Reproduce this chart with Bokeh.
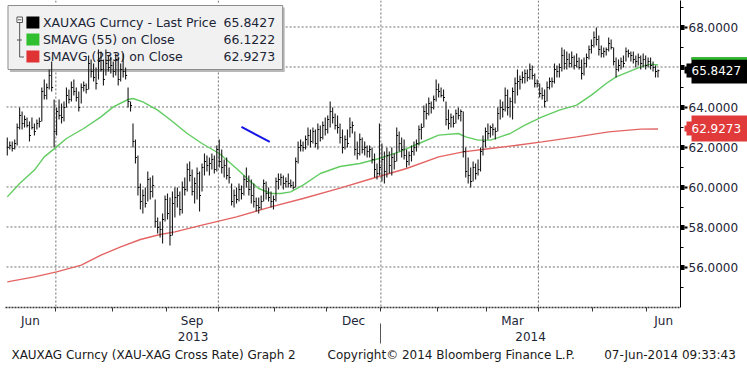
import math
import numpy as np
import pandas as pd
from bokeh.plotting import figure
from bokeh.models import (Range1d, LinearAxis, FixedTicker, NumeralTickFormatter,
                          ColumnDataSource)
from bokeh.core.properties import value
from bokeh.embed import file_html
from bokeh.resources import INLINE

# ---------------- data ----------------
start_date = "2013-06-03"

high = [62.5, 62.3, 62.3, 62.4, 63.2, 64.0, 63.8, 63.6, 63.5, 63.3,
        63.5, 63.2, 63.4, 63.5, 65.0, 65.4, 65.2, 65.9, 66.3, 64.4,
        64.0, 64.4, 64.2, 64.3, 65.0, 64.9, 65.3, 65.4, 65.0, 64.8,
        65.2, 65.3, 65.2, 66.6, 66.4, 66.2, 66.0, 66.9, 66.8, 66.4,
        66.9, 66.6, 66.5, 66.3, 66.7, 66.5, 66.2, 66.7, 66.0, 65.0,
        64.3, 63.2, 62.4, 61.6, 60.2, 59.9, 60.0, 60.8, 60.5, 60.6,
        59.4, 58.5, 58.3, 58.7, 59.6, 59.7, 59.5, 59.8, 60.0, 60.0,
        59.8, 60.3, 60.5, 61.2, 61.3, 60.9, 60.5, 61.0, 60.8, 61.2,
        61.7, 61.6, 61.5, 61.7, 61.6, 62.1, 62.4, 61.9, 61.4, 61.5,
        61.0, 60.2, 59.9, 60.0, 60.2, 60.1, 60.6, 61.0, 60.6, 60.4,
        60.2, 59.5, 59.5, 59.6, 60.4, 60.3, 60.0, 59.8, 59.6, 60.5,
        60.7, 60.7, 60.6, 60.5, 60.7, 60.4, 60.3, 61.5, 62.3, 62.4,
        62.3, 62.6, 63.0, 62.9, 63.0, 62.9, 63.2, 63.1, 63.3, 63.5,
        63.6, 64.3, 64.0, 63.7, 63.6, 63.2, 62.9, 62.6, 62.9, 63.5,
        63.3, 62.8, 62.3, 62.7, 62.5, 62.3, 62.1, 62.1, 62.0, 61.7,
        61.2, 63.2, 62.2, 61.8, 62.0, 61.8, 62.0, 61.7, 63.0, 62.8,
        62.5, 62.4, 61.9, 61.8, 62.1, 62.3, 62.4, 63.1, 63.2, 64.1,
        64.2, 64.5, 64.3, 64.6, 65.4, 65.2, 65.0, 64.9, 64.3, 63.9,
        63.7, 63.6, 63.9, 64.0, 63.9, 63.8, 62.0, 61.5, 61.0, 61.3,
        61.2, 61.4, 62.0, 62.6, 63.0, 63.2, 63.1, 63.2, 63.0, 64.0,
        64.4, 64.3, 65.0, 64.9, 64.5, 65.0, 65.5, 65.9, 65.6, 65.8,
        65.9, 65.9, 66.2, 66.1, 65.7, 65.4, 65.2, 65.0, 64.9, 65.3,
        65.5, 65.5, 66.2, 66.1, 66.2, 67.0, 66.9, 66.8, 66.7, 66.8,
        66.6, 66.7, 66.5, 66.4, 66.5, 66.7, 67.1, 67.4, 67.8, 68.0,
        67.6, 67.1, 67.0, 67.0, 67.5, 67.4, 67.0, 66.5, 66.4, 66.5,
        66.6, 67.0, 66.9, 66.8, 66.8, 66.6, 66.7, 66.6, 66.7, 66.6,
        66.5, 66.5, 66.3, 66.1, 65.9]

low = [61.6, 61.9, 61.8, 61.9, 62.1, 62.9, 62.9, 63.0, 63.0, 62.3,
       62.9, 62.6, 62.9, 63.0, 63.3, 64.4, 64.4, 64.9, 64.8, 62.0,
       62.6, 63.4, 63.2, 63.3, 64.0, 64.2, 64.3, 64.6, 64.3, 63.8,
       64.2, 64.8, 64.7, 64.9, 65.5, 65.3, 64.9, 65.4, 65.8, 65.1,
       65.6, 65.8, 65.7, 65.5, 65.6, 65.1, 65.3, 65.5, 65.4, 64.0,
       63.8, 62.0, 61.2, 59.6, 58.9, 58.7, 59.0, 59.3, 59.4, 59.5,
       58.0, 57.7, 57.5, 57.2, 58.3, 58.4, 57.1, 57.6, 58.5, 59.0,
       58.6, 58.7, 59.6, 59.8, 60.3, 59.6, 59.2, 59.4, 58.8, 59.8,
       60.6, 60.8, 60.6, 60.9, 60.7, 60.8, 61.0, 60.7, 60.5, 60.4,
       60.2, 59.1, 59.0, 59.2, 59.3, 59.4, 59.6, 60.0, 59.6, 59.2,
       59.0, 58.8, 58.7, 58.9, 59.3, 59.4, 59.3, 59.0, 58.9, 59.3,
       59.9, 60.1, 59.9, 60.0, 60.0, 60.0, 59.9, 60.0, 61.2, 61.8,
       61.8, 61.9, 62.1, 62.0, 62.2, 62.0, 61.9, 62.3, 62.4, 62.6,
       62.7, 63.0, 63.2, 62.9, 62.7, 62.2, 61.7, 61.9, 62.0, 62.5,
       62.7, 61.6, 61.4, 61.6, 61.7, 61.6, 61.5, 61.5, 61.2, 60.5,
       60.4, 60.6, 60.3, 60.2, 60.5, 60.7, 60.6, 60.9, 61.3, 61.8,
       61.5, 61.4, 61.0, 61.1, 61.3, 61.6, 61.8, 62.1, 62.4, 63.0,
       63.4, 63.6, 63.7, 63.9, 64.3, 64.5, 64.5, 64.3, 63.1, 62.9,
       63.0, 63.0, 63.2, 63.4, 63.3, 61.5, 60.5, 60.2, 60.0, 60.3,
       60.4, 60.6, 60.8, 61.6, 62.0, 62.4, 62.5, 62.6, 62.4, 62.8,
       63.4, 63.5, 63.8, 63.6, 63.5, 63.4, 64.2, 64.6, 64.9, 65.2,
       65.2, 65.3, 65.4, 65.4, 65.0, 65.0, 64.5, 64.4, 64.0, 64.3,
       64.9, 65.0, 65.2, 65.5, 65.5, 65.8, 65.9, 65.9, 66.0, 66.0,
       65.9, 66.0, 65.9, 65.4, 65.6, 66.0, 66.4, 66.7, 67.0, 67.1,
       66.6, 66.5, 66.5, 66.6, 66.8, 66.9, 66.1, 65.5, 65.8, 65.9,
       66.0, 66.3, 66.5, 66.3, 66.2, 66.0, 66.1, 65.9, 66.0, 65.9,
       66.0, 65.9, 65.8, 65.5, 65.5]

close = [62.0, 62.1, 61.95, 62.2, 63.0, 63.6, 63.2, 63.4, 63.1, 62.6,
         63.0, 62.8, 63.2, 63.3, 64.8, 64.6, 65.0, 65.6, 65.0, 62.8,
         63.8, 63.6, 63.5, 64.0, 64.6, 64.4, 65.0, 64.8, 64.5, 64.0,
         65.0, 65.1, 64.9, 66.2, 65.8, 65.5, 65.2, 66.3, 65.9, 65.4,
         66.2, 66.0, 66.1, 65.8, 66.4, 65.4, 65.9, 65.8, 65.6, 64.3,
         64.1, 62.3, 61.5, 60.0, 59.3, 59.6, 59.2, 60.4, 59.8, 60.1,
         58.3, 58.0, 57.9, 58.4, 59.4, 58.7, 57.6, 59.2, 59.5, 59.6,
         58.9, 60.0, 59.9, 60.9, 60.6, 59.8, 60.2, 60.7, 59.6, 61.0,
         61.3, 61.1, 61.2, 61.4, 60.9, 61.9, 61.3, 61.0, 61.1, 60.6,
         60.5, 59.3, 59.6, 59.4, 59.9, 59.7, 60.4, 60.3, 59.9, 59.6,
         59.3, 59.1, 59.0, 59.3, 60.2, 59.7, 59.5, 59.3, 59.4, 60.3,
         60.4, 60.5, 60.2, 60.3, 60.2, 60.1, 60.0, 61.3, 62.0, 62.1,
         62.0, 62.4, 62.6, 62.3, 62.8, 62.2, 62.9, 62.5, 63.1, 62.9,
         63.4, 63.8, 63.5, 63.1, 63.0, 62.5, 62.0, 62.4, 62.2, 63.0,
         63.1, 61.9, 61.7, 62.4, 61.9, 62.0, 61.8, 61.9, 61.4, 60.9,
         60.7, 61.0, 61.4, 60.8, 61.6, 61.1, 61.5, 61.3, 62.6, 62.2,
         61.9, 61.6, 61.3, 61.6, 61.8, 62.0, 62.2, 62.9, 63.0, 63.8,
         63.7, 64.2, 64.0, 64.4, 64.9, 64.8, 64.6, 64.5, 63.4, 63.2,
         63.5, 63.2, 63.7, 63.6, 63.8, 61.8, 60.8, 60.6, 60.3, 61.0,
         60.7, 60.9, 61.8, 62.3, 62.8, 62.7, 63.0, 62.9, 62.8, 63.7,
         64.0, 63.9, 64.6, 64.0, 64.3, 64.8, 65.2, 65.3, 65.4, 65.5,
         65.7, 65.5, 65.9, 65.6, 65.2, 65.2, 64.7, 64.6, 64.3, 65.0,
         65.3, 65.3, 65.9, 65.8, 66.0, 66.6, 66.2, 66.4, 66.2, 66.5,
         66.1, 66.3, 66.0, 65.7, 66.2, 66.5, 66.9, 67.1, 67.5, 67.4,
         66.9, 66.7, 66.8, 66.9, 67.2, 67.0, 66.3, 65.9, 66.1, 66.3,
         66.2, 66.8, 66.7, 66.6, 66.4, 66.3, 66.5, 66.2, 66.4, 66.1,
         66.3, 66.1, 66.0, 65.8, 65.8427]

# 55-day and 233-day moving averages, sampled (trading-day number, value)
sma55_day = [0, 5, 11, 15, 20, 24, 31, 38, 43, 49, 51, 55, 61, 66, 73, 79, 86,
             93, 98, 102, 107, 111, 115, 120, 127, 135, 143, 151, 159, 167,
             175, 183, 186, 191, 196, 200, 204, 210, 217, 224, 231, 237, 243,
             247, 252, 257, 261, 264]
sma55_val = [59.53, 60.2, 60.87, 61.53, 62.03, 62.45, 62.95, 63.53, 64.03, 64.4,
             64.45, 64.28, 63.87, 63.4, 62.7, 62.2, 61.7, 60.95, 60.37, 59.95,
             59.7, 59.7, 59.78, 60.12, 60.7, 61.05, 61.2, 61.45, 61.78, 62.2,
             62.62, 62.7, 62.53, 62.37, 62.37, 62.53, 62.7, 63.12, 63.53, 63.87,
             64.12, 64.62, 65.2, 65.53, 65.78, 66.03, 66.17, 66.1222]

sma233_day = [0, 11, 20, 30, 38, 46, 54, 62, 68, 79, 93, 107, 120, 135, 148,
              162, 175, 185, 196, 206, 217, 231, 244, 257, 264]
sma233_val = [55.28, 55.53, 55.78, 56.12, 56.62, 57.03, 57.4, 57.65, 57.78,
              58.12, 58.53, 59.03, 59.45, 59.97, 60.45, 60.95, 61.53, 61.78,
              61.95, 62.1, 62.28, 62.53, 62.78, 62.92, 62.9273]

# hand-drawn blue trend mark (trading-day number, value)
note_day = [95.0, 106.5]
note_val = [63.03, 62.28]

last_price = 65.8427
sma55_last = 66.1222
sma233_last = 62.9273

legend_names = ["XAUXAG Curncy - Last Price", "SMAVG (55) on Close", "SMAVG (233) on Close"]
legend_values = [last_price, sma55_last, sma233_last]

y_ticks = [56, 58, 60, 62, 64, 66, 68]
y_minor = [55, 57, 59, 61, 63, 65, 67, 69]
label_months = [6, 9, 12, 3]
footer_texts = ["XAUXAG Curncy (XAU-XAG Cross Rate) Graph 2",
                "Copyright\u00a9 2014 Bloomberg Finance L.P.",
                "07-Jun-2014 09:33:43"]

# ---------------- layout constants (pixels) ----------------
W, H = 747, 370
LEFT, RIGHT_PANEL, BOTTOM_PANEL = 5, 65, 63
FRAME_W, FRAME_H = W - LEFT - RIGHT_PANEL, H - BOTTOM_PANEL
X0, X1 = -0.73, 273.14
Y0 = 54.0
Y1 = Y0 + FRAME_H / 20.0
FONT = "DejaVu Sans"
TXT = "#1c2536"
GRID = "#707070"
DOT, GAP = 2, 2                   # dotted grid pattern, pixels
LEG = (7.5, 5, 285, 71.5)         # legend box (page px): left, top, right, bottom

n = len(close)
dates = pd.bdate_range(start_date, periods=n)
x = np.arange(n, dtype=float)

chg = [i for i in range(1, n) if dates[i].month != dates[i - 1].month]
bounds = [i - 0.5 for i in chg]
bound_month = [dates[i].month for i in chg]
edges = [X0] + bounds + [X1]
months = [dates[0].month] + bound_month
month_pos, month_txt = [], []
for k, m in enumerate(months):
    if m in label_months:
        month_pos.append((edges[k] + edges[k + 1]) / 2.0)
        month_txt.append(pd.Timestamp(2000, m, 1).strftime("%b"))
quarter_bounds = [b for b, m in zip(bounds, bound_month) if m in (1, 4, 7, 10)]
year_bounds = [b for b, m in zip(bounds, bound_month) if m == 1]
yr_edges = [X0] + year_bounds + [X1]
year_pos = [(yr_edges[k] + yr_edges[k + 1]) / 2.0 for k in range(len(yr_edges) - 1)]
year_txt = [str(dates[0].year + k) for k in range(len(year_pos))]


def px(page_x):
    return X0 + (page_x - LEFT) * (X1 - X0) / FRAME_W


def to_page_x(xv):
    return LEFT + (xv - X0) * FRAME_W / (X1 - X0)


def py(page_y):
    return Y1 - page_y / 20.0


def to_page_y(yv):
    return (Y1 - yv) * 20.0


def in_legend(sx, sy):
    return LEG[0] - 1 <= sx <= LEG[2] and LEG[1] - 1 <= sy <= LEG[3]


footer_pos = [px(153.5), px(452.0), px(671.5)]

# dotted grid as small filled pixel blocks (positions from the tick values)
dl, dr, dt, db = [], [], [], []
for t in y_ticks:
    row = math.floor(to_page_y(t))
    for s in range(LEFT + 1, LEFT + FRAME_W - 1, DOT + GAP):
        if in_legend(s, row) or in_legend(s + DOT, row):
            continue
        dl.append(px(s)); dr.append(px(s + DOT)); dt.append(py(row)); db.append(py(row + 1))
for b in quarter_bounds:
    col = math.floor(to_page_x(b))
    for s in range(0, FRAME_H - 1, DOT + GAP):
        if in_legend(col, s) or in_legend(col, s + DOT):
            continue
        dl.append(px(col)); dr.append(px(col + 1)); dt.append(py(s)); db.append(py(s + DOT))

# ---------------- figure ----------------
p = figure(width=W, height=H, output_backend="svg", toolbar_location=None,
           x_range=Range1d(X0, X1), y_range=Range1d(Y0, Y1),
           y_axis_location="right", min_border_left=LEFT, min_border_top=0,
           min_border_right=RIGHT_PANEL, min_border_bottom=BOTTOM_PANEL)
p.outline_line_color = None
p.background_fill_color = "white"
p.border_fill_color = "white"
p.xgrid.visible = False
p.ygrid.visible = False

# ----- right side: axis line + arrow ticks, labels, price tags -----
a1 = p.yaxis[0]
a1.ticker = FixedTicker(ticks=y_ticks, minor_ticks=y_minor)
a1.major_label_overrides = {t: "" for t in y_ticks}
a1.major_label_text_font_size = "0px"
a1.major_label_standoff = 0
a1.axis_line_color = "black"
a1.major_tick_line_color = "black"
a1.major_tick_line_width = 5
a1.major_tick_out = 4
a1.major_tick_in = 0
a1.minor_tick_line_color = "black"
a1.minor_tick_out = 3
a1.minor_tick_in = 0


def tick_axis(ticks, color, width, t_in, t_out):
    ax = LinearAxis(ticker=FixedTicker(ticks=ticks, minor_ticks=[]),
                    major_label_overrides={t: "" for t in ticks},
                    major_label_text_font_size="0px", major_label_standoff=0,
                    axis_line_color=None, major_tick_line_color=color,
                    major_tick_line_width=width, major_tick_in=t_in,
                    major_tick_out=t_out, minor_tick_line_color=None,
                    minor_tick_in=0, minor_tick_out=0)
    p.add_layout(ax, "right")


tick_axis(y_ticks, "black", 2, 0, 3)          # tip of the arrow ticks

lab = LinearAxis(ticker=FixedTicker(ticks=y_ticks, minor_ticks=[]),
                 formatter=NumeralTickFormatter(format="0.0000"),
                 axis_line_color=None, major_tick_line_color=None,
                 major_tick_in=0, major_tick_out=0, minor_tick_line_color=None,
                 minor_tick_in=0, minor_tick_out=0, major_label_standoff=1,
                 major_label_text_font=FONT, major_label_text_font_size="12px",
                 major_label_text_color=TXT)
p.add_layout(lab, "right")

# price tags (boxes drawn as wide ticks)
tick_axis([last_price], "black", 26, 50, 6)
tick_axis([sma233_last], "#e03a3a", 26, 56, 0)
tick_axis([last_price], "black", 14, 61, 0)
tick_axis([last_price], "black", 6, 63, 0)
tick_axis([sma233_last], "#e03a3a", 14, 61, 0)
tick_axis([sma233_last], "#e03a3a", 6, 63, 0)
tick_axis([last_price + 0.6], "#2fbf2f", 2.5, 56, 0)

tag_txt = LinearAxis(ticker=FixedTicker(ticks=[last_price, sma233_last], minor_ticks=[]),
                     formatter=NumeralTickFormatter(format="0.0000"),
                     axis_line_color=None, major_tick_line_color=None,
                     major_tick_in=0, major_tick_out=0, minor_tick_line_color=None,
                     minor_tick_in=0, minor_tick_out=0, major_label_standoff=-56,
                     major_label_text_font=FONT, major_label_text_font_size="12px",
                     major_label_text_color="white")
p.add_layout(tag_txt, "right")

# ----- bottom: months, years, footer -----
xa = p.xaxis[0]
xa.ticker = FixedTicker(ticks=month_pos, minor_ticks=bounds)
xa.major_label_overrides = {pos: t for pos, t in zip(month_pos, month_txt)}
xa.major_tick_line_color = None
xa.major_tick_out = 0
xa.major_tick_in = 0
xa.minor_tick_out = 4
xa.minor_tick_in = 0
xa.minor_tick_line_color = "#333333"
xa.axis_line_color = "#333333"
xa.axis_line_width = 1.5
xa.axis_line_dash = "2 1"
xa.major_label_standoff = 2
xa.major_label_text_font = FONT
xa.major_label_text_font_size = "12px"
xa.major_label_text_color = TXT

yr_axis = LinearAxis(ticker=FixedTicker(ticks=year_pos, minor_ticks=[]),
                     major_label_overrides={pos: t for pos, t in zip(year_pos, year_txt)},
                     axis_line_color=None, major_tick_line_color=None,
                     minor_tick_line_color=None, major_tick_out=0, major_tick_in=0,
                     minor_tick_out=0, minor_tick_in=0, major_label_standoff=1,
                     major_label_text_font=FONT, major_label_text_font_size="12px",
                     major_label_text_color=TXT)
p.add_layout(yr_axis, "below")

foot_axis = LinearAxis(ticker=FixedTicker(ticks=footer_pos, minor_ticks=year_bounds),
                       major_label_overrides={pos: t for pos, t in zip(footer_pos, footer_texts)},
                       axis_line_color=None, major_tick_line_color=None,
                       major_tick_out=0, major_tick_in=0,
                       minor_tick_line_color="#555555", minor_tick_line_width=1,
                       minor_tick_out=0, minor_tick_in=20, major_label_standoff=4,
                       major_label_text_font=FONT, major_label_text_font_size="12px",
                       major_label_text_color="#1a1a1a")
p.add_layout(foot_axis, "below")

# ---------------- legend box (under the bars) ----------------
p.quad(left=[px(LEG[0] + 2)], right=[px(LEG[2])], top=[py(LEG[1] + 2)], bottom=[py(LEG[3])],
       fill_color="#b8b8b8", line_color=None)
p.quad(left=[px(LEG[0])], right=[px(LEG[2] - 2)], top=[py(LEG[1])], bottom=[py(LEG[3] - 2.5)],
       fill_color="#f1f1f1", line_color="#8c8c8c", line_width=1)
p.quad(left=[px(16.5)], right=[px(22)], top=[py(16.5)], bottom=[py(22)],
       fill_color="white", line_color="#555555", line_width=1)
p.segment(x0=[px(17.5), px(19.2), px(16.5), px(19.2)],
          y0=[py(19.3), py(22), py(39.5), py(56.5)],
          x1=[px(21), px(19.2), px(21.5), px(23.5)],
          y1=[py(19.3), py(56.5), py(39.5), py(56.5)],
          line_color="#555555", line_width=1)
row_y = [22, 39, 56]
sq_colors = ["#000000", "#2fbf2f", "#e03434"]
p.quad(left=[px(26)] * 3, right=[px(39)] * 3,
       top=[py(r - 6) for r in row_y], bottom=[py(r + 6) for r in row_y],
       fill_color=sq_colors, line_color=None)
p.text(x=[px(42.5)] * 3, y=[py(r) for r in row_y], text=legend_names,
       text_font=value(FONT), text_font_size="12.5px", text_baseline="middle",
       text_align="left", text_color=TXT)
p.text(x=[px(275.5)] * 3, y=[py(r) for r in row_y],
       text=["%.4f" % v for v in legend_values],
       text_font=value(FONT), text_font_size="12.5px", text_baseline="middle",
       text_align="right", text_color=TXT)

# ---------------- dotted grid ----------------
grid_src = ColumnDataSource(dict(left=dl, right=dr, top=dt, bottom=db))
p.quad(left="left", right="right", top="top", bottom="bottom", source=grid_src,
       fill_color=GRID, line_color=None)

# ---------------- series ----------------
p.line(sma233_day, sma233_val, line_color="#e46464", line_width=1.4)
p.line(sma55_day, sma55_val, line_color="#62cc62", line_width=1.4)

src = ColumnDataSource(dict(x=x, xc=x + 0.6, high=high, low=low, close=close))
p.segment(x0="x", y0="low", x1="x", y1="high", source=src,
          line_color="#1a1a1a", line_width=1.1)
p.segment(x0="x", y0="close", x1="xc", y1="close", source=src,
          line_color="#000000", line_width=1)

p.line(note_day, note_val, line_color="#1414e6", line_width=2)

open("out.html", "w").write(file_html(p, INLINE))
